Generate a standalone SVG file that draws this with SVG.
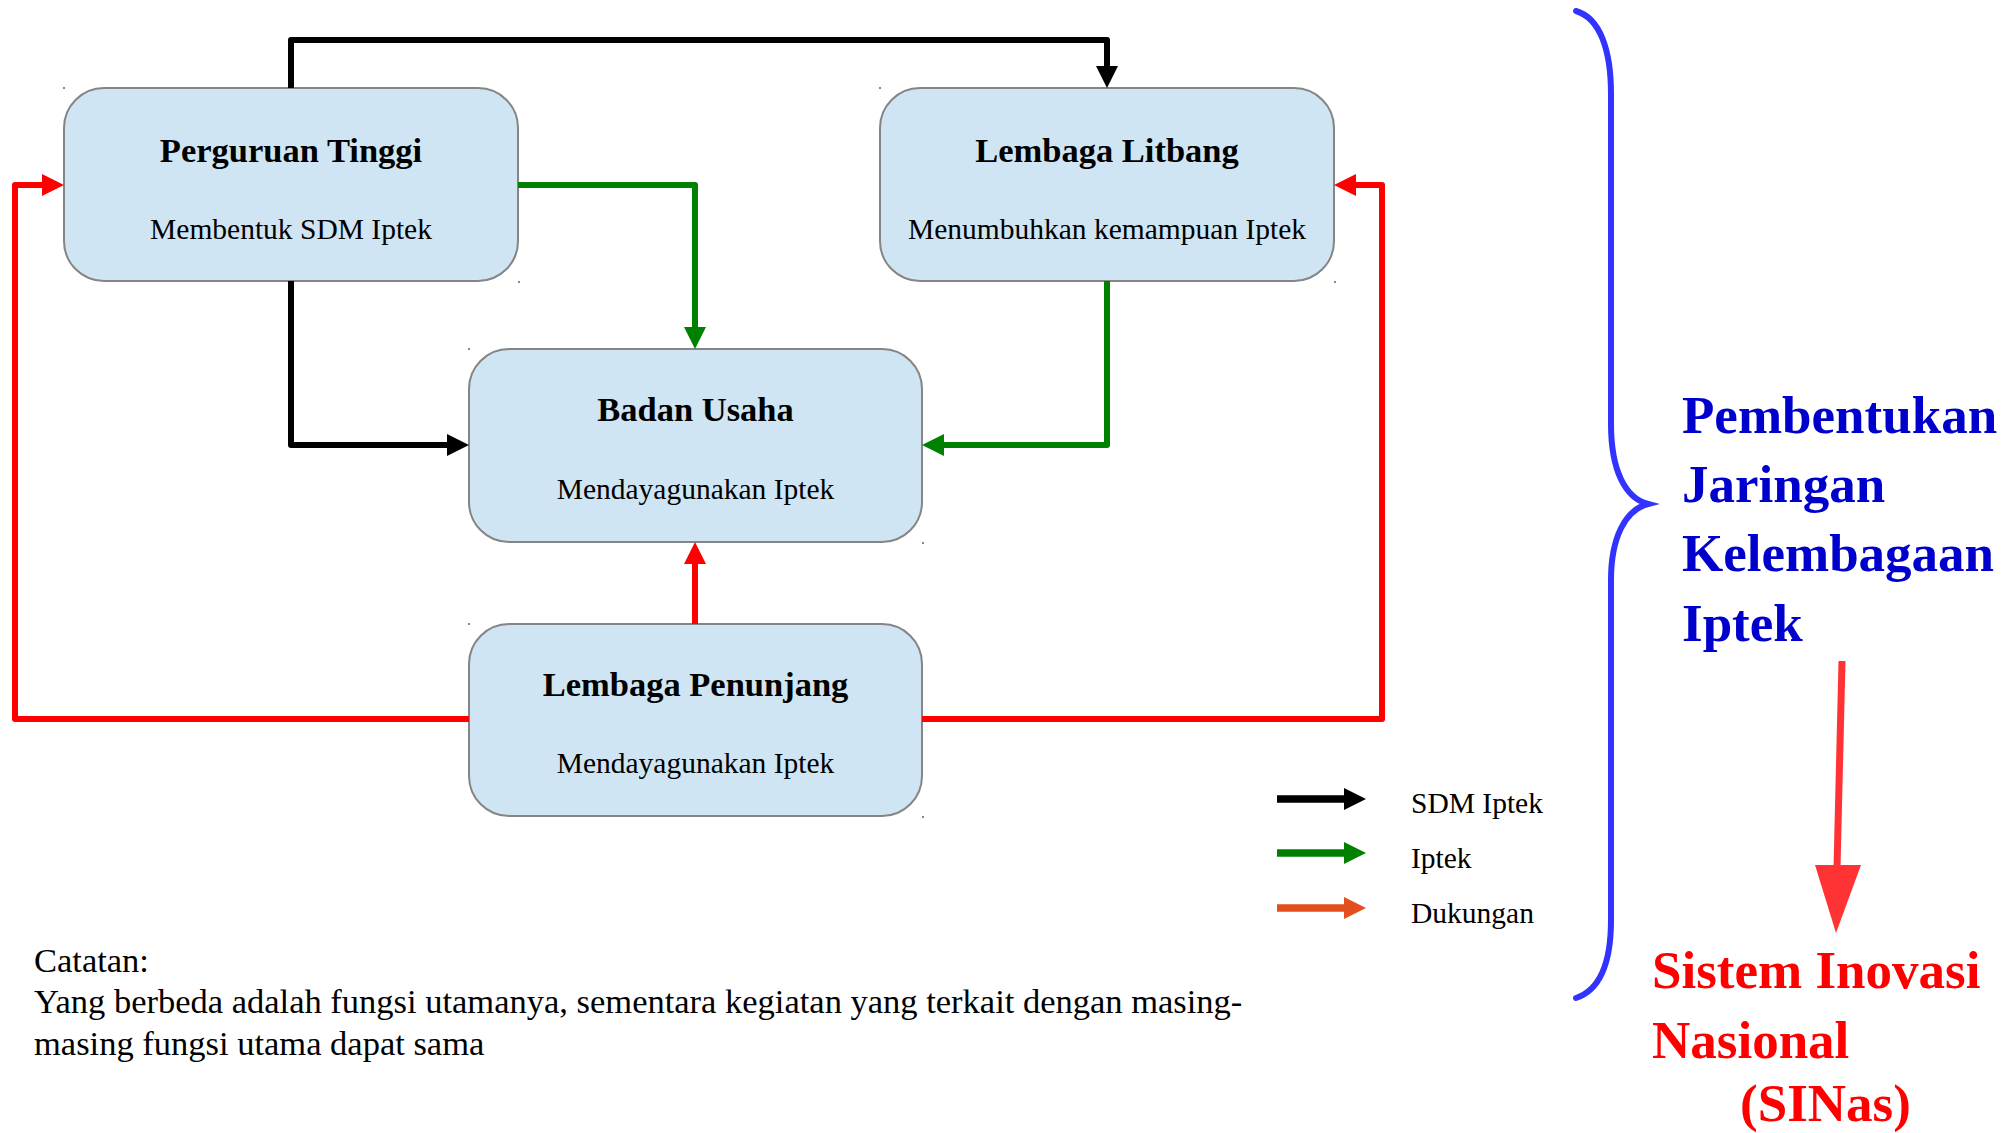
<svg xmlns="http://www.w3.org/2000/svg" width="2009" height="1133" viewBox="0 0 2009 1133">
  <style>
    text { font-family: "Liberation Serif", "Times New Roman", serif; fill: #000; }
    .box { fill: #d0e5f3; stroke: #858585; stroke-width: 2; }
    .title { font-size: 34.5px; font-weight: bold; text-anchor: middle; }
    .sub { font-size: 29.5px; text-anchor: middle; }
    .dot { fill: #888; }
    .conn { fill: none; stroke-width: 6; stroke-linejoin: round; }
    .k { stroke: #000; }
    .g { stroke: #008000; }
    .r { stroke: #ff0000; }
    .o { stroke: #e24e1e; }
    .leg { font-size: 29.5px; }
    .note { font-size: 34.5px; }
    .blue { font-size: 53px; font-weight: bold; fill: #0000cc; }
    .red { font-size: 53px; font-weight: bold; fill: #ff0000; }
  </style>
  <defs>
    <marker id="ak" markerUnits="userSpaceOnUse" markerWidth="22" markerHeight="22" viewBox="0 0 22 22" refX="1" refY="11" orient="auto"><path d="M0,0 L22,11 L0,22 z" fill="#000"/></marker>
    <marker id="ag" markerUnits="userSpaceOnUse" markerWidth="22" markerHeight="22" viewBox="0 0 22 22" refX="1" refY="11" orient="auto"><path d="M0,0 L22,11 L0,22 z" fill="#008000"/></marker>
    <marker id="ar" markerUnits="userSpaceOnUse" markerWidth="22" markerHeight="22" viewBox="0 0 22 22" refX="1" refY="11" orient="auto"><path d="M0,0 L22,11 L0,22 z" fill="#ff0000"/></marker>
    <marker id="ao" markerUnits="userSpaceOnUse" markerWidth="22" markerHeight="22" viewBox="0 0 22 22" refX="1" refY="11" orient="auto"><path d="M0,0 L22,11 L0,22 z" fill="#e24e1e"/></marker>
  </defs>
  <rect width="2009" height="1133" fill="#fff"/>

  <g id="node-perguruan-tinggi">
    <rect class="box" x="64" y="88" width="454" height="193" rx="40" ry="40"/>
    <text class="title" x="291" y="162">Perguruan Tinggi</text>
    <text class="sub" x="291" y="239">Membentuk SDM Iptek</text>
    <rect class="dot" x="63" y="87" width="2" height="2"/>
    <rect class="dot" x="518" y="281" width="2" height="2"/>
  </g>
  <g id="node-lembaga-litbang">
    <rect class="box" x="880" y="88" width="454" height="193" rx="40" ry="40"/>
    <text class="title" x="1107" y="162">Lembaga Litbang</text>
    <text class="sub" x="1107" y="239">Menumbuhkan kemampuan Iptek</text>
    <rect class="dot" x="879" y="87" width="2" height="2"/>
    <rect class="dot" x="1334" y="281" width="2" height="2"/>
  </g>
  <g id="node-badan-usaha">
    <rect class="box" x="469" y="349" width="453" height="193" rx="40" ry="40"/>
    <text class="title" x="695.5" y="421">Badan Usaha</text>
    <text class="sub" x="695.5" y="499">Mendayagunakan Iptek</text>
    <rect class="dot" x="468" y="348" width="2" height="2"/>
    <rect class="dot" x="922" y="542" width="2" height="2"/>
  </g>
  <g id="node-lembaga-penunjang">
    <rect class="box" x="469" y="624" width="453" height="192" rx="40" ry="40"/>
    <text class="title" x="695.5" y="696">Lembaga Penunjang</text>
    <text class="sub" x="695.5" y="773">Mendayagunakan Iptek</text>
    <rect class="dot" x="468" y="623" width="2" height="2"/>
    <rect class="dot" x="922" y="816" width="2" height="2"/>
  </g>

  <g id="connectors">
    <path class="conn k" d="M291,88 V40 H1107 V67" marker-end="url(#ak)"/>
    <path class="conn k" d="M291,281 V445 H448" marker-end="url(#ak)"/>
    <path class="conn g" d="M518,185 H695 V328" marker-end="url(#ag)"/>
    <path class="conn g" d="M1107,281 V445 H943" marker-end="url(#ag)"/>
    <path class="conn r" d="M695,624 V563" marker-end="url(#ar)"/>
    <path class="conn r" d="M469,719 H15 V185 H43" marker-end="url(#ar)"/>
    <path class="conn r" d="M922,719 H1382 V185 H1355" marker-end="url(#ar)"/>
  </g>

  <g id="legend">
    <path class="conn k" style="stroke-width:7.5" d="M1277,799 H1345" marker-end="url(#ak)"/>
    <text class="leg" x="1411" y="813">SDM Iptek</text>
    <path class="conn g" style="stroke-width:7.5" d="M1277,853 H1345" marker-end="url(#ag)"/>
    <text class="leg" x="1411" y="868">Iptek</text>
    <path class="conn o" style="stroke-width:7.5" d="M1277,908 H1345" marker-end="url(#ao)"/>
    <text class="leg" x="1411" y="923">Dukungan</text>
  </g>

  <g id="note">
    <text class="note" x="34" y="972">Catatan:</text>
    <text class="note" x="34" y="1013">Yang berbeda adalah fungsi utamanya, sementara kegiatan yang terkait dengan masing-</text>
    <text class="note" x="34" y="1055">masing fungsi utama dapat sama</text>
  </g>

  <g id="brace">
    <path d="M1576,11 C1600,18 1611,50 1611,94 L1611,424 C1611,470 1625,498 1648,504 C1625,510 1611,538 1611,580 L1611,920 C1611,962 1600,990 1576,998" fill="none" stroke="#3333ff" stroke-width="6" stroke-linecap="round"/>
  </g>

  <g id="node-pembentukan">
    <text class="blue" x="1682" y="433">Pembentukan</text>
    <text class="blue" x="1682" y="502">Jaringan</text>
    <text class="blue" x="1682" y="571">Kelembagaan</text>
    <text class="blue" x="1682" y="641">Iptek</text>
  </g>

  <g id="big-arrow">
    <path d="M1842,661 L1837,868" fill="none" stroke="#ff3333" stroke-width="7"/>
    <polygon points="1815,865 1861,865 1836,933" fill="#ff3333"/>
  </g>

  <g id="node-sinas">
    <text class="red" x="1652" y="988">Sistem Inovasi</text>
    <text class="red" x="1652" y="1058">Nasional</text>
    <text class="red" x="1740" y="1121">(SINas)</text>
  </g>
</svg>
